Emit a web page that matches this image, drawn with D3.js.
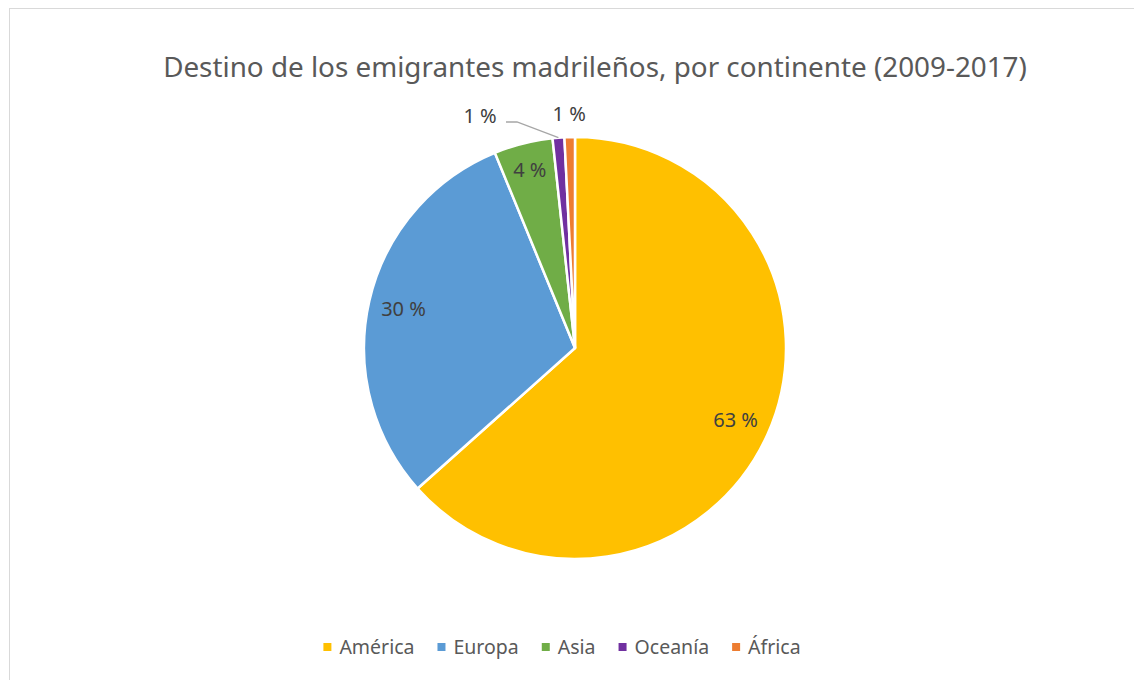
<!DOCTYPE html>
<html>
<head>
<meta charset="utf-8">
<script src="https://cdn.jsdelivr.net/npm/d3@7"></script>
<style>
  html, body { margin: 0; padding: 0; background: #fff; }
  svg { display: block; }
  text { font-family: "Noto Sans", "Open Sans", sans-serif; }
</style>
</head>
<body>
<svg id="chart" width="1134" height="680"></svg>
<script>
// ---- data ----
const categories = ["América", "Europa", "Asia", "Oceanía", "África"];
const shares = [63.4, 30.4, 4.5, 0.9, 0.8];
const labelsText = ["63 %", "30 %", "4 %", "1 %", "1 %"];
const colors = ["#FFC000", "#5B9BD5", "#70AD47", "#7030A0", "#ED7D31"];
const title = "Destino de los emigrantes madrileños, por continente (2009-2017)";

// ---- layout ----
const W = 1134, H = 680;
const cx = 575, cy = 348, R = 211;
const svg = d3.select("#chart");

// chart area border
svg.append("rect")
  .attr("x", 9.5).attr("y", 8.5)
  .attr("width", W + 20).attr("height", H + 20)
  .attr("fill", "#fff").attr("stroke", "#d9d9d9").attr("stroke-width", 1);

// title
const t = svg.append("text")
  .attr("x", 595).attr("y", 77)
  .attr("text-anchor", "middle")
  .attr("fill", "#595959")
  .style("font-size", "26px")
  .text(title);
const tw = t.node().getComputedTextLength();
t.style("font-size", (26 * 864 / tw).toFixed(2) + "px");

// pie
const pie = d3.pie().sort(null).value(d => d.v);
const data = categories.map((c, i) => ({ c, v: shares[i], lab: labelsText[i], col: colors[i] }));
const arcs = pie(data);
const arc = d3.arc().innerRadius(0).outerRadius(R);

const g = svg.append("g").attr("transform", `translate(${cx},${cy})`);
g.selectAll("path").data(arcs).enter().append("path")
  .attr("d", arc)
  .attr("fill", d => d.data.col)
  .attr("stroke", "#fff")
  .attr("stroke-width", 2.5)
  .attr("stroke-linejoin", "round");

// data labels
const polar = (a, r) => [r * Math.sin(a), -r * Math.cos(a)];
const mid = d => (d.startAngle + d.endAngle) / 2;
const labelG = g.append("g");
const labelSize = 20;

arcs.forEach((d, i) => {
  let pos;
  if (i === 0 || i === 1) pos = polar(mid(d), 176);
  else if (i === 2) pos = polar(mid(d), 184);
  else if (i === 4) pos = polar(mid(d), 234);
  else {
    // Oceanía: outside label with leader line
    const p = polar(mid(d), R);
    pos = [-95, -232];
    const lx = pos[0] + 26;
    labelG.append("polyline")
      .attr("points", `${lx},${pos[1] + 6} ${lx + 11},${pos[1] + 6} ${p[0]},${p[1]}`)
      .attr("fill", "none").attr("stroke", "#a6a6a6").attr("stroke-width", 1.3);
  }
  labelG.append("text")
    .attr("x", pos[0]).attr("y", pos[1])
    .attr("dy", "0.35em")
    .attr("text-anchor", "middle")
    .attr("fill", "#404040")
    .style("font-size", labelSize + "px")
    .text(d.data.lab);
});

// legend
const legend = svg.append("g");
const items = legend.selectAll("g").data(data).enter().append("g");
items.append("rect")
  .attr("width", 8).attr("height", 8)
  .attr("y", -4)
  .attr("fill", d => d.col);
items.append("text")
  .attr("x", 16).attr("dy", "0.35em")
  .attr("fill", "#595959")
  .style("font-size", "19.5px")
  .text(d => d.c);
let xoff = 0;
const gap = 23;
items.each(function () {
  const w = 16 + d3.select(this).select("text").node().getComputedTextLength();
  d3.select(this).attr("transform", `translate(${xoff},0)`);
  xoff += w + gap;
});
const total = xoff - gap;
legend.attr("transform", `translate(${(562 - total / 2).toFixed(1)},647)`);
</script>
</body>
</html>
